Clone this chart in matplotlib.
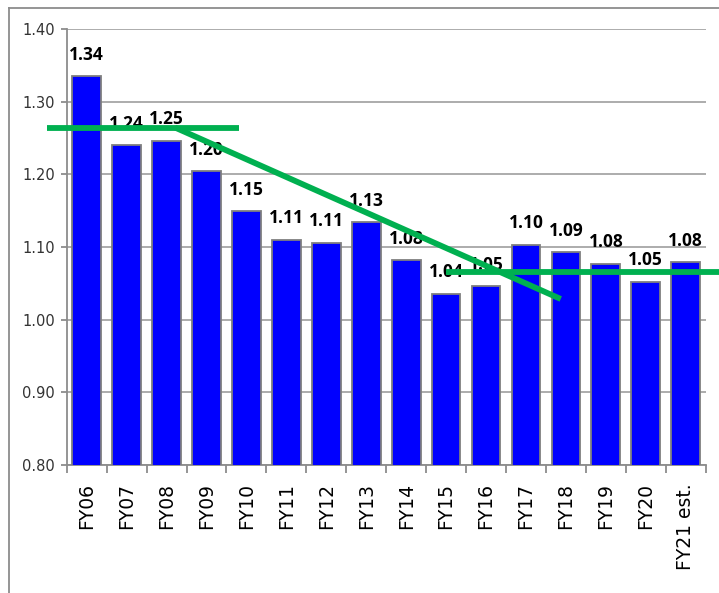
import matplotlib.pyplot as plt
from matplotlib.lines import Line2D
import numpy as np

# values
years = ["FY06", "FY07", "FY08", "FY09", "FY10", "FY11", "FY12", "FY13",
         "FY14", "FY15", "FY16", "FY17", "FY18", "FY19", "FY20", "FY21 est."]
ratios = [1.335, 1.240, 1.246, 1.204, 1.149, 1.110, 1.106, 1.134,
          1.082, 1.036, 1.046, 1.103, 1.093, 1.077, 1.052, 1.079]
labels = ["1.34", "1.24", "1.25", "1.20", "1.15", "1.11", "1.11", "1.13",
          "1.08", "1.04", "1.05", "1.10", "1.09", "1.08", "1.05", "1.08"]

# hand drawn trend lines (x in category units, y in ratio)
trend1_x = [-0.99, 3.81]
trend1_y = [1.2645, 1.2645]
trend2_x = [2.21, 11.87]
trend2_y = [1.2645, 1.0285]
trend3_x = [9.0, 15.9]
trend3_y = [1.0656, 1.0656]

fig = plt.figure(figsize=(7.19, 5.93), dpi=100)
ax = fig.add_axes([0.0928, 0.2159, 0.8887, 0.7351])

x = np.arange(len(years))
ax.bar(x, ratios, width=0.72, color="#0000FF", edgecolor="#7f7f7f",
       linewidth=1.3, zorder=3)

for xi, v, lab in zip(x, ratios, labels):
    ax.annotate(lab, (xi, v), xytext=(0, 9), textcoords="offset points",
                ha="center", va="bottom", fontsize=12.5, fontweight="bold",
                family="Open Sans", zorder=4, annotation_clip=False)

green = "#00B050"
for tx, ty in [(trend1_x, trend1_y), (trend2_x, trend2_y), (trend3_x, trend3_y)]:
    ax.plot(tx, ty, color=green, lw=4.2, solid_capstyle="butt",
            clip_on=False, zorder=5)

ax.set_xlim(-0.5, len(years) - 0.5)
ax.set_ylim(0.8, 1.4)
ax.set_yticks(np.arange(0.8, 1.401, 0.1))
ax.set_yticklabels([f"{t:.2f}" for t in np.arange(0.8, 1.401, 0.1)])
ax.grid(axis="y", color="#a6a6a6", lw=1.3, zorder=0)

ax.set_xticks(x)
ax.set_xticklabels(years, rotation=90)
ax.set_xticks(np.arange(-0.5, len(years)), minor=True)
ax.tick_params(axis="x", which="major", length=0, pad=13, labelsize=13.5)
ax.tick_params(axis="x", which="minor", length=5.5, width=1.3, color="#8c8c8c")
ax.tick_params(axis="y", length=4.5, width=1.3, color="#8c8c8c", pad=4,
               labelsize=10.5, labelcolor="#333333")

for s in ["top", "right"]:
    ax.spines[s].set_visible(False)
for s in ["left", "bottom"]:
    ax.spines[s].set_color("#8c8c8c")
    ax.spines[s].set_linewidth(1.3)

# outer chart border (top and left only)
fig.add_artist(Line2D([9 / 719, 9 / 719], [0, 1 - 8 / 593],
                      transform=fig.transFigure, color="#8c8c8c", lw=1.3))
fig.add_artist(Line2D([9 / 719, 1], [1 - 8 / 593, 1 - 8 / 593],
                      transform=fig.transFigure, color="#8c8c8c", lw=1.3))

fig.savefig("out.png", dpi=100)
